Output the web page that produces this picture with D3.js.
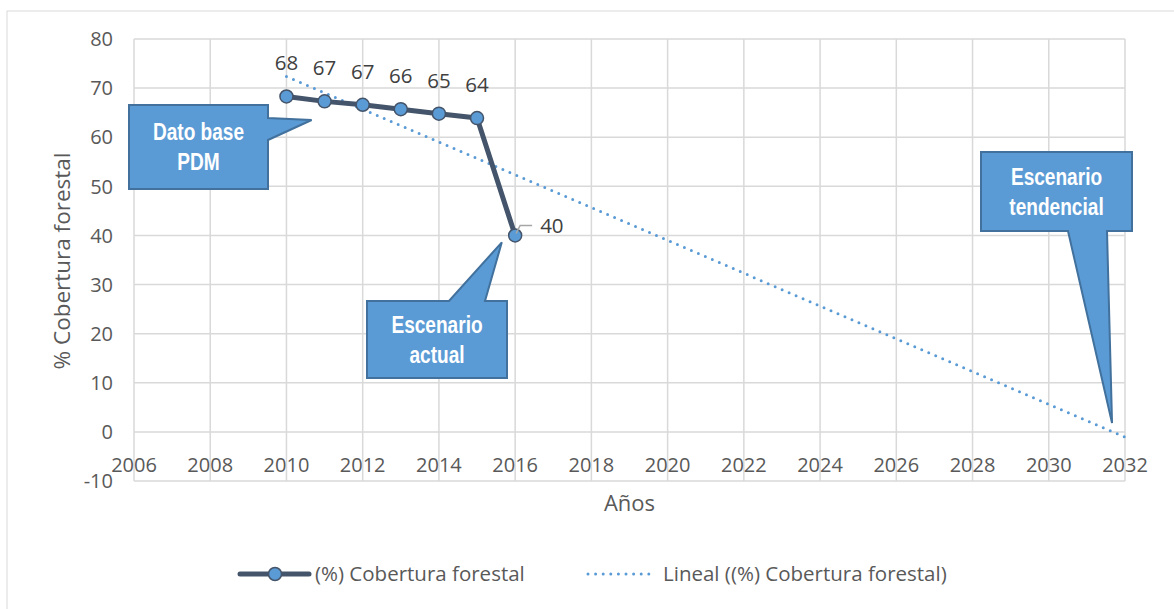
<!DOCTYPE html>
<html>
<head>
<meta charset="utf-8">
<script src="https://cdn.jsdelivr.net/npm/d3@7"></script>
<style>
  body { margin: 0; background: #fff; }
  text { font-family: "Open Sans", sans-serif; }
  .callout text { font-family: "Liberation Sans", Arial, sans-serif; font-weight: bold; fill: #fff; font-size: 23px; }
</style>
</head>
<body>
<div id="chart"></div>
<script>
// data
const years = [2010, 2011, 2012, 2013, 2014, 2015, 2016];
const cobertura = [68.3, 67.3, 66.6, 65.7, 64.8, 63.9, 40.0];
const xTicks = [2006, 2008, 2010, 2012, 2014, 2016, 2018, 2020, 2022, 2024, 2026, 2028, 2030, 2032];
const yTicks = [-10, 0, 10, 20, 30, 40, 50, 60, 70, 80];
const trendEnd = 2032;

const seriesName = "(%) Cobertura forestal";
const trendName = "Lineal ((%) Cobertura forestal)";

const W = 1174, H = 609;
const svg = d3.select("#chart").append("svg")
    .attr("width", W)
    .attr("height", H);

// chart frame (top is cut off in the original)
svg.append("rect")
    .attr("x", 7).attr("y", 11)
    .attr("width", W + 20).attr("height", H + 20)
    .attr("fill", "none")
    .attr("stroke", "#d9d9d9")
    .attr("stroke-width", 1);

const x = d3.scaleLinear().domain([2006, 2032]).range([134, 1125]);
const y = d3.scaleLinear().domain([-10, 80]).range([481, 39]);

// gridlines
svg.append("g").selectAll("line")
    .data(xTicks)
    .enter()
    .append("line")
    .attr("x1", d => x(d)).attr("x2", d => x(d))
    .attr("y1", y(80)).attr("y2", y(-10))
    .attr("stroke", "#d9d9d9")
    .attr("stroke-width", 1.5);

svg.append("g").selectAll("line")
    .data(yTicks)
    .enter()
    .append("line")
    .attr("x1", x(2006)).attr("x2", x(2032))
    .attr("y1", d => y(d)).attr("y2", d => y(d))
    .attr("stroke", "#d9d9d9")
    .attr("stroke-width", 1.5);

// tick labels
svg.append("g").selectAll("text")
    .data(yTicks)
    .enter()
    .append("text")
    .attr("x", 113)
    .attr("y", d => y(d))
    .attr("dy", "0.36em")
    .attr("text-anchor", "end")
    .attr("font-size", 20)
    .attr("fill", "#595959")
    .text(d => d);

svg.append("g").selectAll("text")
    .data(xTicks)
    .enter()
    .append("text")
    .attr("x", d => x(d))
    .attr("y", y(0) + 40)
    .attr("text-anchor", "middle")
    .attr("font-size", 20)
    .attr("fill", "#595959")
    .text(d => d);

// axis titles
svg.append("text")
    .attr("x", (x(2006) + x(2032)) / 2)
    .attr("y", 511)
    .attr("text-anchor", "middle")
    .attr("font-size", 22)
    .attr("fill", "#595959")
    .text("Años");

svg.append("text")
    .attr("transform", "translate(70," + 261 + ") rotate(-90)")
    .attr("text-anchor", "middle")
    .attr("font-size", 22.5)
    .attr("fill", "#595959")
    .text("% Cobertura forestal");

// linear trend (least squares on the series)
const mx = d3.mean(years), my = d3.mean(cobertura);
const slope = d3.sum(years, (d, i) => (d - mx) * (cobertura[i] - my)) / d3.sum(years, d => (d - mx) * (d - mx));
const icpt = my - slope * mx;
const trendPts = [years[0], trendEnd].map(t => [t, icpt + slope * t]);

svg.append("path")
    .datum(trendPts)
    .attr("d", d3.line().x(d => x(d[0])).y(d => y(d[1])))
    .attr("fill", "none")
    .attr("stroke", "#5b9bd5")
    .attr("stroke-width", 3)
    .attr("stroke-linecap", "round")
    .attr("stroke-dasharray", "0,7.6");

// series
const pts = years.map((d, i) => [d, cobertura[i]]);
svg.append("path")
    .datum(pts)
    .attr("d", d3.line().x(d => x(d[0])).y(d => y(d[1])))
    .attr("fill", "none")
    .attr("stroke", "#44546a")
    .attr("stroke-width", 5)
    .attr("stroke-linejoin", "round");

svg.append("g").selectAll("circle")
    .data(pts)
    .enter()
    .append("circle")
    .attr("cx", d => x(d[0]))
    .attr("cy", d => y(d[1]))
    .attr("r", 6.5)
    .attr("fill", "#5b9bd5")
    .attr("stroke", "#44546a")
    .attr("stroke-width", 1.5);

// data labels
const fmt = d3.format(".0f");
const last = pts[pts.length - 1];
svg.append("g").selectAll("text")
    .data(pts.slice(0, -1))
    .enter()
    .append("text")
    .attr("x", d => x(d[0]))
    .attr("y", d => y(d[1]) - 26)
    .attr("text-anchor", "middle")
    .attr("font-size", 20.5)
    .attr("fill", "#404040")
    .text(d => fmt(d[1]));

// label for the last point, with a leader line
svg.append("path")
    .attr("d", "M" + (x(last[0]) + 1) + "," + (y(last[1]) - 2)
        + "L" + (x(last[0]) + 5) + "," + (y(last[1]) - 10)
        + "L" + (x(last[0]) + 17) + "," + (y(last[1]) - 10))
    .attr("fill", "none")
    .attr("stroke", "#a6a6a6")
    .attr("stroke-width", 1.5);

svg.append("text")
    .attr("x", x(last[0]) + 25)
    .attr("y", y(last[1]) - 10)
    .attr("dy", "0.36em")
    .attr("font-size", 20.5)
    .attr("fill", "#404040")
    .text(fmt(last[1]));

// callouts: box + pointer drawn as one outline
function callout(box, side, base, tip, lines) {
    const [x0, y0, x1, y1] = box;
    let p;
    if (side === "right") {
        p = [[x0, y0], [x1, y0], [x1, base[0]], tip, [x1, base[1]], [x1, y1], [x0, y1]];
    } else if (side === "top") {
        p = [[x0, y0], [base[0], y0], tip, [base[1], y0], [x1, y0], [x1, y1], [x0, y1]];
    } else {
        p = [[x0, y0], [x1, y0], [x1, y1], [base[1], y1], tip, [base[0], y1], [x0, y1]];
    }
    const g = svg.append("g").attr("class", "callout");
    g.append("path")
        .attr("d", "M" + p.map(q => q.join(",")).join("L") + "Z")
        .attr("fill", "#5b9bd5")
        .attr("stroke", "#41719c")
        .attr("stroke-width", 2)
        .attr("stroke-linejoin", "miter");
    const cx = (x0 + x1) / 2, cy = (y0 + y1) / 2;
    // narrow bold look of the original
    const tg = g.append("g").attr("transform", "translate(" + cx + "," + cy + ") scale(0.83,1)");
    lines.forEach((t, i) => {
        tg.append("text")
            .attr("x", 0)
            .attr("y", (i - (lines.length - 1) / 2) * 30)
            .attr("dy", "0.36em")
            .attr("text-anchor", "middle")
            .text(t);
    });
}

callout([129, 105, 268, 189], "right", [118, 140], [x(2010.66), y(63.5)], ["Dato base", "PDM"]);
callout([367, 301, 507, 378], "top", [449, 485], [x(2015.65), y(38.6)], ["Escenario", "actual"]);
callout([981, 152, 1132, 231], "bottom", [1068, 1107], [x(2031.66), y(1.8)], ["Escenario", "tendencial"]);

// legend
const ly = 574;
const lg = svg.append("g");
lg.append("line")
    .attr("x1", 240).attr("x2", 309)
    .attr("y1", ly).attr("y2", ly)
    .attr("stroke", "#44546a")
    .attr("stroke-width", 5)
    .attr("stroke-linecap", "round");
lg.append("circle")
    .attr("cx", 275).attr("cy", ly).attr("r", 6.5)
    .attr("fill", "#5b9bd5")
    .attr("stroke", "#44546a")
    .attr("stroke-width", 1.5);
lg.append("text")
    .attr("x", 315).attr("y", ly)
    .attr("dy", "0.36em")
    .attr("font-size", 20.5)
    .attr("fill", "#595959")
    .text(seriesName);
lg.append("line")
    .attr("x1", 588).attr("x2", 656)
    .attr("y1", ly).attr("y2", ly)
    .attr("stroke", "#5b9bd5")
    .attr("stroke-width", 3)
    .attr("stroke-linecap", "round")
    .attr("stroke-dasharray", "0,7.6");
lg.append("text")
    .attr("x", 663).attr("y", ly)
    .attr("dy", "0.36em")
    .attr("font-size", 20.5)
    .attr("fill", "#595959")
    .text(trendName);
</script>
</body>
</html>
